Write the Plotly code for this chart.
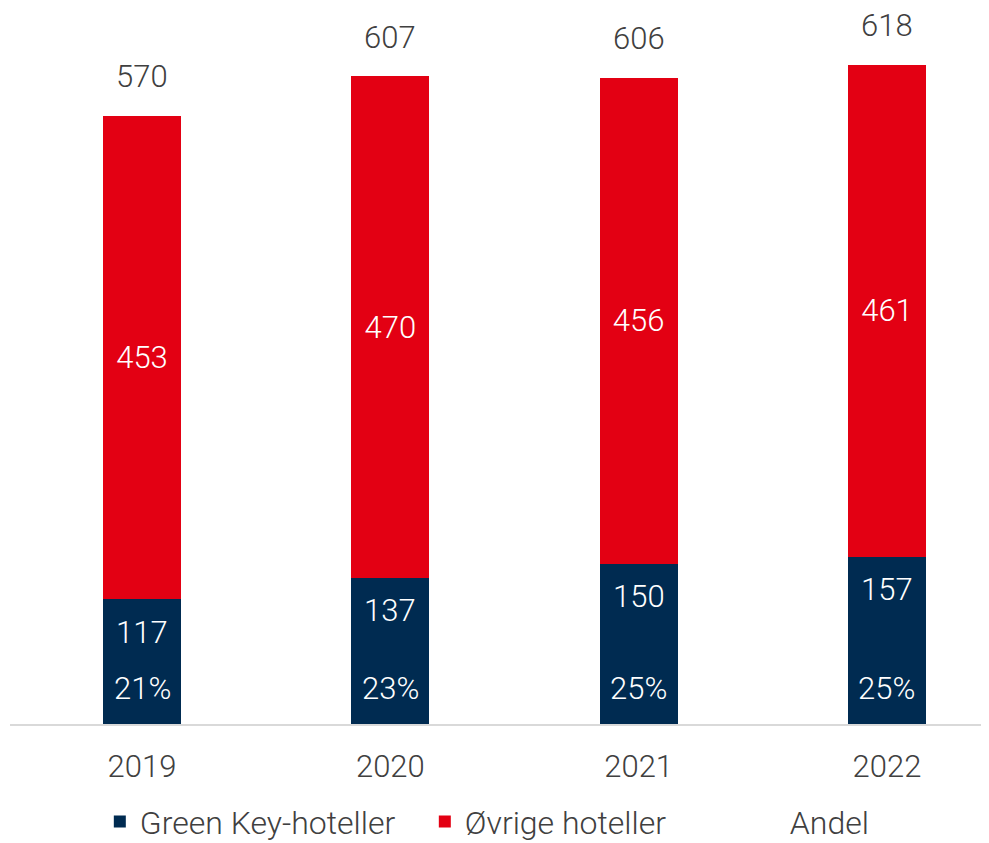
import plotly.graph_objects as go

years = ["2019", "2020", "2021", "2022"]
green_key = [117, 137, 150, 157]
other = [453, 470, 456, 461]
totals = [570, 607, 606, 618]
share_pct = ["21%", "23%", "25%", "25%"]

NAVY = "#002B51"
RED = "#E30013"
GREY = "#404040"
FONT = "Roboto"

x = list(range(len(years)))

fig = go.Figure()
fig.add_trace(go.Bar(
    x=x, y=green_key, name="Green Key-hoteller", width=0.315,
    marker=dict(color=NAVY, line=dict(width=0)),
))
fig.add_trace(go.Bar(
    x=x, y=other, name="Øvrige hoteller", width=0.315,
    marker=dict(color=RED, line=dict(width=0)),
    text=[str(v) for v in other], textposition="inside", insidetextanchor="middle",
    textfont=dict(color="white", size=31, family=FONT, weight=300), textangle=0,
))
# invisible series, only for the legend entry
fig.add_trace(go.Scatter(
    x=x, y=green_key, name="Andel", mode="lines",
    line=dict(width=0, color="rgba(0,0,0,0)"), hoverinfo="skip",
))

annotations = []
for i in x:
    annotations.append(dict(x=i, y=totals[i], text=str(totals[i]), showarrow=False,
                            yshift=39, font=dict(size=31, color=GREY, family=FONT, weight=300)))
    annotations.append(dict(x=i, y=green_key[i], text=str(green_key[i]), showarrow=False,
                            yshift=-33, font=dict(size=31, color="white", family=FONT, weight=300)))
    annotations.append(dict(x=i, y=0, text=share_pct[i], showarrow=False,
                            yshift=36, font=dict(size=31, color="white", family=FONT, weight=300)))

fig.update_layout(
    barmode="stack",
    width=989, height=843,
    margin=dict(l=2, r=0, t=0, b=127, autoexpand=False),
    paper_bgcolor="white", plot_bgcolor="white",
    font=dict(family=FONT, color=GREY, size=30, weight=300),
    annotations=annotations,
    showlegend=True,
    legend=dict(orientation="h", x=0.091, xanchor="left", y=-0.098, yanchor="top",
                font=dict(size=32, color=GREY, family=FONT, weight=300),
                itemsizing="constant", traceorder="normal", entrywidth=280),
    xaxis=dict(range=[-0.5316, 3.443], tickmode="array", tickvals=x, ticktext=years,
               showgrid=False, zeroline=False, showline=True, linecolor="#D9D9D9", linewidth=2,
               ticks="outside", ticklen=14, tickcolor="rgba(0,0,0,0)", automargin=False,
               tickfont=dict(size=31, color=GREY, family=FONT, weight=300)),
    yaxis=dict(range=[0, 671.2], visible=False, showgrid=False, zeroline=False, automargin=False),
)

fig.write_html("out.html")
